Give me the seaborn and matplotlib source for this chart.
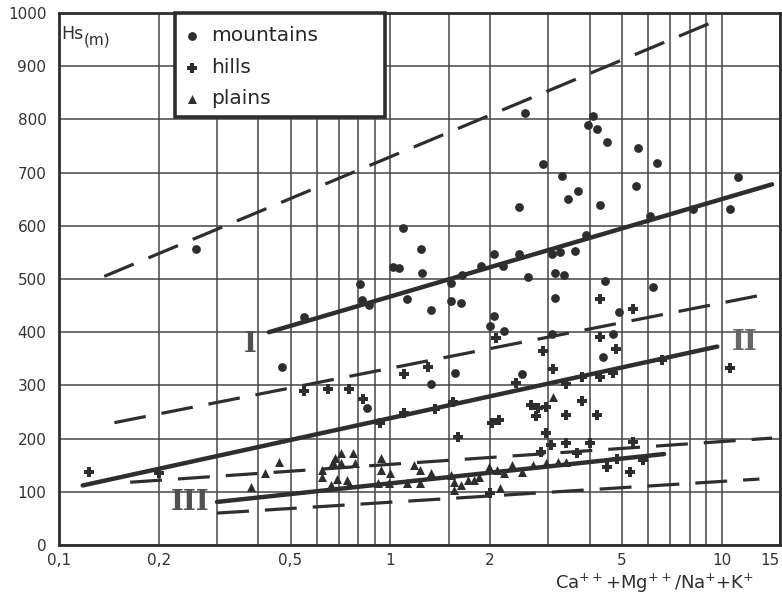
import numpy as np
import pandas as pd
import matplotlib.pyplot as plt
import seaborn as sns
from matplotlib.patches import Rectangle
from matplotlib.ticker import FixedLocator, NullFormatter

sns.set_style('white')
plt.rcParams['font.family'] = ['DejaVu Sans']

# --- values ---
mountains_x = [0.26, 0.47, 0.55, 0.81, 0.82, 0.86, 0.85, 1.02, 1.06, 1.09, 1.24, 1.25, 1.12,
               1.33, 1.52, 1.64, 1.53, 1.65, 1.88, 2.06, 2.19, 2.45, 2.6, 2.55, 2.9, 2.44,
               3.07, 3.26, 3.6, 3.15, 3.35, 3.15, 3.3, 3.45, 3.69, 3.95, 4.1, 4.2, 4.5, 5.6,
               6.4, 5.5, 4.3, 3.9, 6.1, 8.2, 10.6, 11.2, 4.45, 6.2, 2.06, 2.0, 2.2, 3.07,
               4.7, 4.9, 4.4, 2.5, 1.57, 1.33]
mountains_y = [556, 335, 429, 490, 460, 451, 257, 522, 521, 596, 556, 511, 462,
               442, 459, 455, 492, 507, 524, 547, 524, 547, 504, 812, 716, 635,
               547, 551, 553, 511, 507, 464, 694, 650, 665, 789, 806, 782, 757, 746,
               718, 675, 639, 583, 618, 632, 632, 692, 496, 485, 431, 412, 402, 397,
               397, 438, 353, 321, 323, 303]

hills_x = [0.123, 0.2, 0.55, 0.65, 0.75, 0.83, 0.93, 1.1, 1.3, 2.08, 1.1, 1.36, 1.55, 1.6,
           2.03, 2.13, 4.3, 5.4, 10.6, 2.9, 3.1, 4.3, 4.8, 2.4, 3.4, 3.8, 4.3, 4.7, 6.6,
           2.65, 2.8, 2.95, 2.75, 3.4, 3.8, 4.2, 2.95, 3.05, 3.4, 4.0, 5.4, 3.65, 4.5,
           5.3, 4.85, 5.8, 2.0, 2.85]
hills_y = [137, 135, 289, 293, 293, 275, 229, 321, 335, 389, 248, 256, 269, 203,
           229, 235, 462, 444, 332, 365, 331, 391, 368, 304, 303, 316, 316, 323, 348,
           263, 258, 259, 242, 244, 271, 244, 211, 188, 192, 192, 194, 173, 147,
           137, 162, 160, 98, 175]

plains_x = [0.38, 0.42, 0.46, 0.62, 0.62, 0.67, 0.68, 0.71, 0.77, 0.71, 0.78, 0.69, 0.66,
            0.74, 0.75, 0.92, 0.94, 0.94, 1.0, 0.99, 1.18, 1.23, 1.33, 1.12, 1.23, 1.52,
            1.56, 1.63, 1.72, 1.79, 1.85, 1.98, 2.1, 2.2, 2.33, 2.5, 2.7, 2.95, 3.2, 3.4,
            1.56, 2.15, 3.1]
plains_y = [109, 135, 156, 141, 128, 156, 163, 173, 173, 154, 154, 124, 113,
            122, 115, 117, 164, 141, 135, 117, 150, 141, 135, 117, 117, 131,
            118, 113, 122, 122, 128, 147, 141, 135, 150, 137, 150, 154, 156, 156,
            103, 107, 278]

# fitted lines (end points)
solid_I_x, solid_I_y = [0.43, 14.2], [400, 678]
solid_II_x, solid_II_y = [0.118, 9.7], [112, 373]
solid_III_x, solid_III_y = [0.3, 6.7], [81, 171]
dash_top_x, dash_top_y = [0.137, 10], [505, 990]
dash_mid_x, dash_mid_y = [0.147, 14], [230, 473]
dash_low_x, dash_low_y = [0.164, 14.2], [118, 201]
dash_bot_x, dash_bot_y = [0.3, 13], [60, 124]

x_ticks = [0.1, 0.2, 0.5, 1, 2, 5, 10, 15]
x_ticklabels = ['0,1', '0,2', '0,5', '1', '2', '5', '10', '15']
x_minor = [0.3, 0.4, 0.6, 0.7, 0.8, 0.9, 1.5, 3, 4, 6, 7, 8, 9]
y_ticks = list(range(0, 1001, 100))

ink = '#2e2e2e'
gridc = '#454545'

fig = plt.figure(figsize=(7.82, 5.98), dpi=100)
ax = fig.add_axes([0.0754, 0.0886, 0.9220, 0.8896])

sns.scatterplot(x=mountains_x, y=mountains_y, ax=ax, marker='o', s=40, color=ink,
                edgecolor=ink, linewidth=0, label='mountains', zorder=3)
sns.scatterplot(x=hills_x, y=hills_y, ax=ax, marker='P', s=60, color=ink,
                edgecolor=ink, linewidth=0, label='hills', zorder=3)
sns.scatterplot(x=plains_x, y=plains_y, ax=ax, marker='^', s=42, color=ink,
                edgecolor=ink, linewidth=0, label='plains', zorder=3)

for lx, ly in [(solid_I_x, solid_I_y), (solid_II_x, solid_II_y), (solid_III_x, solid_III_y)]:
    sns.lineplot(x=lx, y=ly, ax=ax, color=ink, lw=3.2, zorder=2)
for lx, ly in [(dash_top_x, dash_top_y), (dash_mid_x, dash_mid_y),
               (dash_low_x, dash_low_y), (dash_bot_x, dash_bot_y)]:
    ax.plot(lx, ly, color=ink, lw=2.3, linestyle=(0, (10, 5)), zorder=2)

ax.set_xscale('log')
ax.set_xlim(0.1, 15)
ax.set_ylim(0, 1000)
ax.set_xticks(x_ticks)
ax.set_xticklabels(x_ticklabels)
ax.get_xticklabels()[-1].set_horizontalalignment('right')
ax.xaxis.set_minor_locator(FixedLocator(x_minor))
ax.xaxis.set_minor_formatter(NullFormatter())
ax.set_yticks(y_ticks)
ax.tick_params(which='both', length=0, labelsize=11, colors='#333333')
ax.tick_params(axis='y', pad=9)
ax.tick_params(axis='x', pad=6)
ax.grid(which='both', color=gridc, lw=1.1)
ax.set_axisbelow(True)
for sp in ax.spines.values():
    sp.set_color(ink)
    sp.set_linewidth(2)

# legend box
ax.add_patch(Rectangle((0.161, 0.8045), 0.2913, 0.1955, transform=ax.transAxes,
                       facecolor='white', edgecolor=ink, lw=2.6, zorder=4, clip_on=False))
ax.legend(loc='upper left', bbox_to_anchor=(0.171, 0.975), frameon=False, fontsize=14.5,
          handletextpad=0.45, labelspacing=0.62, borderaxespad=0, borderpad=0,
          handlelength=1.0)

# labels
ax.text(0.003, 0.977, 'Hs', transform=ax.transAxes, fontsize=12.5, va='top', color=ink)
ax.text(0.034, 0.963, '(m)', transform=ax.transAxes, fontsize=11, va='top', color=ink)
ax.text(0.377, 376, 'I', fontsize=20, fontweight='bold', family='DejaVu Serif',
        color='#505050', ha='center', va='center')
ax.text(11.7, 381, 'II', fontsize=20, fontweight='bold', family='DejaVu Serif',
        color='#666666', ha='center', va='center')
ax.text(0.248, 79, 'III', fontsize=20, fontweight='bold', family='DejaVu Serif',
        color='#505050', ha='center', va='center')
fig.text(655 / 782, 1 - 583 / 598, r'Ca$^{++}$+Mg$^{++}$/Na$^{+}$+K$^{+}$',
         fontsize=13, ha='center', va='center', color=ink)

fig.savefig('out.png', dpi=100)
